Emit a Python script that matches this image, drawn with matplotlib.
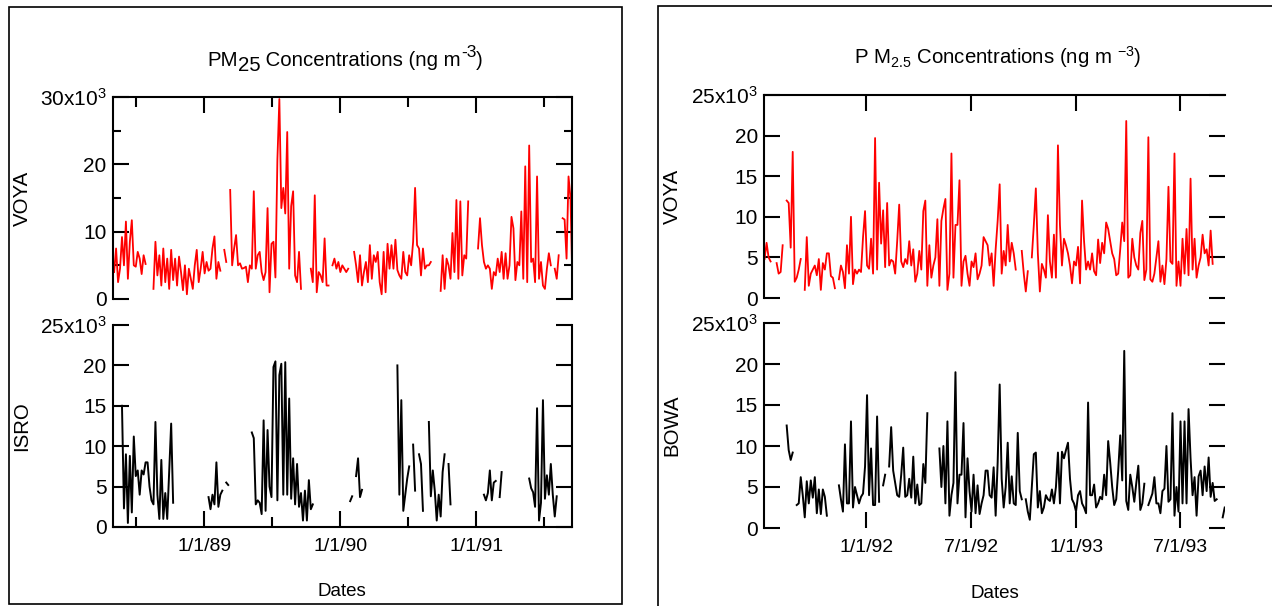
import numpy as np
import pandas as pd
import matplotlib
matplotlib.use('Agg')
import matplotlib.pyplot as plt
import matplotlib.dates as mdates
from matplotlib.ticker import FuncFormatter, MultipleLocator
from matplotlib.patches import Rectangle

plt.rcParams['font.family'] = ['Liberation Sans', 'DejaVu Sans']
plt.rcParams['mathtext.fontset'] = 'custom'
plt.rcParams['mathtext.rm'] = 'Liberation Sans'
plt.rcParams['mathtext.it'] = 'Liberation Sans'
plt.rcParams['mathtext.default'] = 'rm'

nan = float('nan')

# PM2.5 in units of 10^3 ng/m3, NaN = no sample
# left panel: VOYA / ISRO, 1988-1991, one value every ~5.3 days
voya_left = ([4, 7.5, 2.5, 4.5, 9.2, 5, 11.5, 3, 8.5, 11.7, 5, 4.8, 7, 6, 3.7, 6.5, 5.2]
             + [nan] * 3
             + [1.5, 8.5, 3.5, 6.5, 2, 7.5, 2.5, 6, 1.5, 7.3, 2.8, 6, 2, 6.3, 4, 1.3, 5, 0.7,
                4.5, 3, 1.5, 5, 7.3, 2.5, 4.5, 7, 3.8, 5.5, 4.2, 4.5, 7.5, 9.3, 3, 5.5, 4.2]
             + [nan, 7.3, 5.5, nan]
             + [16.2, 5, 7.5, 9.5, 5, 5.3, 4.5, 4.6, 4.8, 2.5, 5, 4.5, 16, 4.5, 6.5, 7, 4, 2.8, 4,
                13.5, 1, 8.2, 8.5, 3.2, 20.7, 29.7, 13.5, 16.5, 12.7, 24.8, 4.5, 13.8, 16, 3.5,
                2.5, 7, 1.5]
             + [nan] * 4
             + [4.5, 2.5, 15.4, 1, 4, 3.5, 2.5, 9, 2, 2]
             + [nan]
             + [5, 6, 4.5, 5.5, 4, 5, 4.5, 4, 4.5]
             + [nan] * 2
             + [7, 5, 2.5, 6.5, 2, 4, 5.5, 2.5, 8, 3, 6.5, 5.5, 7, 2.5, 0.7, 7, 1, 8.2, 4.5, 8,
                4.5, 8.8, 4.3, 3.5, 3, 7, 4, 3.5, 6.5, 5, 8.5, 16.5, 8, 7.5, 3.5, 7.5, 4.5, 5, 5, 5.5]
             + [nan] * 4
             + [1.2, 6.5, 1.5, 6, 5, 3, 9.8, 4, 14.7, 3, 14.5, 3.5, 6.5, 6, 14.5]
             + [nan] * 4
             + [7.5, 12, 8, 5.5, 4.5, 5, 4.5, 1.5, 4, 3.5, 6, 4, 7, 3, 6.8, 3, 5, 12.2, 10.5, 2.8,
                5.5, 5, 13, 3, 19.7, 2.5, 22.8, 5.5, 6, 2.5, 18.2, 3, 5.5, 2, 1.5, 4.5, 6.8, 5]
             + [nan, 4.5, 3, 6.5, nan]
             + [12, 11.8, 6, 18.2, 15, 2, 4])

isro = ([nan] * 4
        + [15, 2.3, 9, 0.5, 8.8, 1.8, 11.2, 6.3, 7, 4, 7, 6.5, 8, 8, 5, 3.3, 2.8, 13, 4, 1,
           8.3, 1, 4.2, 1, 7, 12.8, 3]
        + [nan] * 17
        + [3.7, 2.2, 4, 2.8, 8, 2.5, 4, 4.5, nan, 5.5, 5.2]
        + [nan] * 11
        + [11.7, 11, 2.8, 3.3, 3, 1.6, 13.2, 2, 12, 5, 3.7, 19.8, 20.5, 3.3, 18.8, 20.2, 4,
           20.4, 4, 15.9, 3.5, 8.5, 2.8, 7.8, 2.5, 4.2, 0.8, 4.5, 0.8, 5.8, 2.2, 2.8]
        + [nan] * 18
        + [3.2, 3.8, nan, 6.3, 8.5, 3.7, 4.6]
        + [nan] * 17
        + [20, 4, 15.7, 2, 4, 6, 7.5, nan, 10.2, 4.5, nan, 9, 7.8, 2, nan, nan,
           13, 3.8, 7, 4.5, 0.8, 4, 1.3, 6.8, 9, nan, 7.8, 2.8]
        + [nan] * 16
        + [4, 3.3, 4.2, 7, 3.3, 5.5, 5.7, nan, 3.7, 6.8]
        + [nan] * 13
        + [6, 4.8, 4.3, 2.5, 14.7, 0.8, 3, 15.7, 3.5, 6.4, 4, 7.8, 4, 1.3, 3.8])

# right panel: VOYA / BOWA, 1991-1993, one value every 3.5 days
voya_right = ([4.8, 6.8, 5, 4.5, nan, nan, 4.3, 3, 3.2, 6.5, nan]
              + [12, 11.7, 6.2, 18, 2, 2.5, 3.5, 4.8, nan]
              + [1, 7.5, 1.5, 3, 3.5, 4, 2.8, 4.8, 1, 4.3, 3.5, 5.5, 5.5, 2.7, 2.5, 1.2, nan]
              + [2.3, 4, 3.2, 1.2, 6.5, 3, 10, 1.7, 3.5, 3,
                 3.5, 3.2, 7.5, 10.7, 4, 3.6, 7.3, 3, 19.7, 3.5,
                 14.2, 6.7, 10.8, 3.8, 11.7, 4, 4.7, 4.5, 3, 7,
                 11.5, 4.5, 3.8, 4.8, 4.2, 7, 4, 6, 2, 3,
                 5.8, 3.5, 10.7, 12, 1.5, 6.5, 2.5, 4, 5, 9.7,
                 1.5, 9.5, 11, 12.2, 1, 3, 17.8, 2.5, 9, 9,
                 14.5, 1.5, 4.5, 5.2, 3, 1.5, 4.5, 3.8, 5.5, 2.3,
                 3, 4, 7.5, 7, 6.5, 4, 5.5, 1.5, 6, 9.5,
                 14, 3, 5.8, 4, 9, 4.5, 6.8, 5.5, 3.5]
              + [nan, nan, 5.8, 3, 0.8, 3.3, nan]
              + [5, 9, 13.5, 5.5, 0.8, 4.2, 3.5, 2.5, 10.2, 4.5,
                 2.5, 7.8, 2.5, 18.8, 9, 4, 7.3, 6.5, 5.5, 4,
                 1.8, 4.5, 4, 6.3, 1.8, 12, 7, 3.5, 4.5, 3.5,
                 5.5, 3.3, 2.8, 7.2, 4.3, 6.8, 5.5, 9.3, 8.5, 7,
                 5.5, 4.8, 2.8, 3, 6, 9.3, 7, 21.8, 2.5, 2.8,
                 7.3, 5, 4, 3.5, 8, 9.5, 2.2, 3.5, 19.8, 2.3,
                 2, 3, 5, 7, 2, 4, 1.7, 4.8, 13.7, 4.5,
                 4.2, 17.8, 1.5, 4.5, 1.5, 7.3, 3, 8.5, 2.8, 14.7,
                 3.5, 7.3, 2.5, 4, 5, 7.8, 5.5, 6, 4, 8.3, 4.2])

bowa = ([nan] * 11
        + [12.5, 9.5, 8.3, 9.2, nan]
        + [2.8, 3, 6.2, 4, 1.3, 5.7, 3, 5.8, 3.7, 6.2, 1.8, 4.7, 1.7, 4.7, 3.8, 1.5]
        + [nan] * 5
        + [5.2, 3.5, 2, 10.2, 3, 3, 13, 2.5, 5, 4, 3, 3.8, 4.2, 7.5, 16.2, 4, 9.7, 2.8, 2.8,
           13.6, 3.2, nan, 5.2, 6.5, nan]
        + [7.5, 12.3, 7, 5.5, 4, 3.8, 6.5, 9.8, 3.8, 4, 6, 3.7, 8.7, 3, 5.3, 2.8, 3, 7.8, 5.5, 14]
        + [nan] * 5
        + [9.7, 5, 10, 3, 13, 1.5, 4, 5.5, 19, 3, 6.5, 6.5, 12.8, 1.3, 8.5, 4.5, 2, 6.5, 1.8,
           5.2, 1.7, 3, 4, 7, 7, 4, 3.7, 7.4, 1.5, 8, 17.5, 6, 2.5, 5, 10.4, 3, 6.3, 3, 2.8,
           11.6, 4.5, 3.5, nan]
        + [3.5, 2, 1, 5, 9, 9.2, 2.5, 4.5, 1.8, 2.5, 4, 3.5, 3.3, 4.7, 3, 5, 9.2, 3, 9.3, 8.5,
           9.5, 10.4, 6, 3.5, 3, 2, 4, 4.5, 3, 2.5, 1.8, 15.3, 4, 4, 5.3, 2.5, 3, 3.8, 3.5,
           6.5, 4, 10.6, 8, 5, 2.8, 3.5, 7, 11.3, 5.8, 21.6, 3.3, 2.2, 6.5, 5, 3.2, 5.5, 7.6,
           2.2, 3, 5.4, nan]
        + [2.8, 3.5, 4.2, 6.2, 3, 3, 1.8, 4.5, 4.8, 10, 3.2, 3.5, 14, 1.5, 5, 2, 13, 3, 13, 3,
           14.5, 8.5, 4, 6.2, 1.5, 6.3, 7, 4, 7.5, 4.5, 8.6, 3.8, 5.5, 3.3, 3.5]
        + [nan, nan, 1.3, 2.5])


def pad(vals, n):
    return np.array(vals + [nan] * (n - len(vals)), dtype=float)


n_left = max(len(voya_left), len(isro))
n_right = max(len(voya_right), len(bowa))
dates_left = pd.Timestamp('1988-05-04') + pd.to_timedelta(np.arange(n_left) * 5.28, unit='D')
dates_right = pd.Timestamp('1991-07-08') + pd.to_timedelta(np.arange(n_right) * 3.5, unit='D')

W, H = 1272, 606
fig = plt.figure(figsize=(W / 100, H / 100), dpi=100)


def box(x0, y0, x1, y1):
    return [x0 / W, 1 - y1 / H, (x1 - x0) / W, (y1 - y0) / H]


def yfmt(top):
    def f(v, pos):
        if abs(v - top) < 1e-6:
            return '%dx10$^{3}$' % round(v)
        return '%d' % round(v)
    return FuncFormatter(f)


def datefmt(x, pos):
    d = mdates.num2date(x)
    return '%d/%d/%02d' % (d.month, d.day, d.year % 100)


FS = 13.5
TFS = 14.7
LW = 1.5


def style(ax, top, ymax, ymajor, yminor, xlim, left_panel):
    ax.set_ylim(0, ymax)
    ax.set_xlim(pd.Timestamp(xlim[0]), pd.Timestamp(xlim[1]))
    ax.yaxis.set_major_locator(MultipleLocator(ymajor))
    if yminor:
        ax.yaxis.set_minor_locator(MultipleLocator(yminor))
    ax.yaxis.set_major_formatter(yfmt(ymax))
    if left_panel:
        ax.xaxis.set_major_locator(mdates.YearLocator())
        ax.xaxis.set_minor_locator(mdates.MonthLocator(bymonth=7))
    else:
        ax.xaxis.set_major_locator(mdates.MonthLocator(bymonth=(1, 7)))
    ax.xaxis.set_major_formatter(FuncFormatter(datefmt))
    for s in ax.spines.values():
        s.set_linewidth(LW)
    ax.tick_params(which='both', direction='in', width=LW,
                   left=True, right=True, labelleft=True, labelright=False)
    ax.tick_params(which='major', length=11.3)
    ax.tick_params(axis='y', which='minor', length=5.8)
    ax.tick_params(axis='x', which='minor', length=7.2)
    ax.tick_params(axis='y', pad=4.5, labelsize=15)
    ax.tick_params(axis='x', pad=8, labelsize=14)
    if top:
        ax.tick_params(axis='x', which='both', top=True, bottom=False,
                       labelbottom=False, labeltop=False)
        ax.spines['bottom'].set_visible(False)
    else:
        ax.tick_params(axis='x', which='both', top=False, bottom=True, labelbottom=True)
        ax.spines['top'].set_visible(False)
    ax.patch.set_alpha(0)


# left panel
ax1 = fig.add_axes(box(113, 97, 572, 299))
ax1.plot(dates_left, pad(voya_left, n_left), color='#ff0000', lw=1.3)
style(ax1, True, 30, 10, 5, ('1988-05-01', '1991-09-15'), True)

ax2 = fig.add_axes(box(113, 325, 572, 527))
ax2.plot(dates_left, pad(isro, n_left), color='black', lw=1.4)
style(ax2, False, 25, 5, None, ('1988-05-01', '1991-09-15'), True)

# right panel
ax3 = fig.add_axes(box(764, 95, 1225, 298))
ax3.plot(dates_right, pad(voya_right, n_right), color='#ff0000', lw=1.3)
style(ax3, True, 25, 5, None, ('1991-07-07', '1993-09-17'), False)
ax3.spines['right'].set_visible(False)

ax4 = fig.add_axes(box(764, 323, 1225, 528))
ax4.plot(dates_right, pad(bowa, n_right), color='black', lw=1.4)
style(ax4, False, 25, 5, None, ('1991-07-07', '1993-09-17'), False)
ax4.spines['right'].set_visible(False)
ax4.spines['bottom'].set_visible(False)

# outer frames
fig.add_artist(Rectangle((9 / W, 1 - 604 / H), 613 / W, 597 / H, transform=fig.transFigure,
                         fill=False, lw=1.2, color='black'))
fig.add_artist(Rectangle((658 / W, -0.1), 1.0, 1 - 6 / H + 0.1, transform=fig.transFigure,
                         fill=False, lw=1.2, color='black', clip_on=False))

# left title built from pieces so the subscript keeps full size
pieces = [('PM', TFS, 0), ('25', TFS, -3.6), (' Concentrations (ng m', TFS, 3.6),
          ('-3', TFS * 0.85, 7.5), (')', TFS, -7.5)]
prev = fig.text(0, 1 - 66 / H, pieces[0][0], fontsize=pieces[0][1], va='baseline')
parts = [prev]
for txt, size, dy in pieces[1:]:
    prev = fig.add_artist(matplotlib.text.Annotation(
        txt, xy=(1, 0), xycoords=parts[-1], xytext=(0, dy), textcoords='offset points',
        fontsize=size, va='bottom', ha='left'))
    parts.append(prev)
fig.canvas.draw()
r = fig.canvas.get_renderer()
x0 = parts[0].get_window_extent(r).x0
x1 = max(p.get_window_extent(r).x1 for p in parts)
parts[0].set_x((345 - (x1 - x0) / 2) / W)

fig.text(998 / W, 1 - 57 / H, r'P M$_{2.5}$ Concentrations (ng m $^{-3}$)',
         ha='center', va='center', fontsize=TFS)
fig.text(22 / W, 1 - 198 / H, 'VOYA', rotation=90, ha='center', va='center', fontsize=TFS)
fig.text(22 / W, 1 - 426 / H, 'ISRO', rotation=90, ha='center', va='center', fontsize=TFS)
fig.text(672 / W, 1 - 196 / H, 'VOYA', rotation=90, ha='center', va='center', fontsize=TFS)
fig.text(672 / W, 1 - 425 / H, 'BOWA', rotation=90, ha='center', va='center', fontsize=TFS)
fig.text(342 / W, 1 - 592 / H, 'Dates', ha='center', va='center', fontsize=FS)
fig.text(995 / W, 1 - 593 / H, 'Dates', ha='center', va='center', fontsize=FS)

fig.savefig('out.png', dpi=100)
